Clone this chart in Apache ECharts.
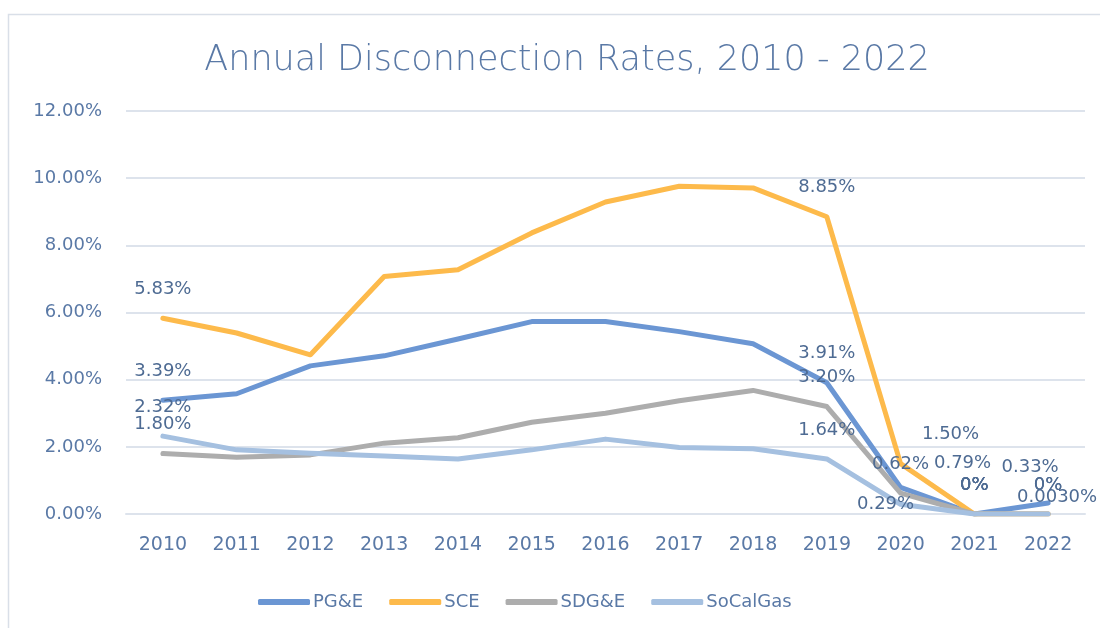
<!DOCTYPE html>
<html>
<head>
<meta charset="utf-8">
<title>Annual Disconnection Rates, 2010 - 2022</title>
<script src="https://cdn.jsdelivr.net/npm/echarts@6/dist/echarts.min.js"></script>
<style>
  html, body { margin: 0; padding: 0; background: #fff; }
  #chart { width: 1100px; height: 628px; }
</style>
</head>
<body>
<div id="chart"></div>
<script>
/* Tasas anuales de desconexión (en %) */
const YEARS = ["2010","2011","2012","2013","2014","2015","2016","2017","2018","2019","2020","2021","2022"];
const SERIES_NAMES = ["PG&E", "SCE", "SDG&E", "SoCalGas"];

const PGE      = [3.39, 3.58, 4.41, 4.71, 5.21, 5.73, 5.73, 5.43, 5.07, 3.91, 0.79, 0, 0.33];
const SCE      = [5.83, 5.39, 4.74, 7.07, 7.27, 8.37, 9.29, 9.76, 9.71, 8.85, 1.50, 0, 0];
const SDGE     = [1.80, 1.69, 1.76, 2.11, 2.27, 2.73, 3.00, 3.37, 3.68, 3.20, 0.62, 0, 0];
const SOCALGAS = [2.32, 1.91, 1.81, 1.73, 1.64, 1.91, 2.23, 1.98, 1.94, 1.64, 0.29, 0, 0.003];

// etiquetas de datos tal como aparecen (null = sin etiqueta)
const PGE_LABELS      = ["3.39%", null, null, null, null, null, null, null, null, "3.91%", "0.79%", "0%", "0.33%"];
const SCE_LABELS      = ["5.83%", null, null, null, null, null, null, null, null, "8.85%", "1.50%", "0%", "0%"];
const SDGE_LABELS     = ["1.80%", null, null, null, null, null, null, null, null, "3.20%", "0.62%", "0%", "0%"];
const SOCALGAS_LABELS = ["2.32%", null, null, null, null, null, null, null, null, "1.64%", "0.29%", "0%", "0.0030%"];

const Y_TICKS = [0, 2, 4, 6, 8, 10, 12];

const PALETTE = {
  pge: "#6b96d3",
  sce: "#fdba4b",
  sdge: "#adadad",
  socal: "#a5c0e0",
  text: "#5a79a6",
  label: "#4e6b93",
  grid: "#dde3ec",
};

// desplazamientos manuales de etiquetas (como en el original)
const LABEL_OFFSETS = {
  "PG&E":     { 10: [62, 5], 12: [-18, -7] },
  "SCE":      { 10: [50, 0] },
  "SDG&E":    {},
  "SoCalGas": { 10: [-15, 29], 12: [9, 12] },
};

const FONT = "'DejaVu Sans', sans-serif";

function buildSeries(name, values, labels, color) {
  const offs = LABEL_OFFSETS[name] || {};
  return {
    name,
    type: "line",
    symbol: "circle",
    symbolSize: 0,
    showSymbol: true,
    lineStyle: { width: 5, color, cap: "round", join: "round" },
    itemStyle: { color },
    emphasis: { disabled: true },
    data: values.map((v, i) => {
      const item = { value: v };
      if (labels[i] !== null) {
        item.label = {
          show: true,
          position: "top",
          distance: 20,
          offset: offs[i] || [0, 0],
          formatter: labels[i],
          color: PALETTE.label,
          fontSize: 18,
          fontFamily: FONT,
        };
      }
      return item;
    }),
    z: 2,
  };
}

const chart = echarts.init(document.getElementById("chart"), null, { renderer: "canvas" });

chart.setOption({
  animation: false,
  backgroundColor: "#fff",
  graphic: [{
    type: "rect",
    left: 6, top: 12,
    shape: { width: 1200, height: 700 },
    style: { fill: "none", stroke: "#d9dfe8", lineWidth: 1.5 },
    silent: true,
  }],
  title: {
    text: "Annual Disconnection Rates, 2010 - 2022",
    left: 562, top: 38, textAlign: "center",
    textStyle: { color: PALETTE.text, fontSize: 35, fontWeight: 200, fontFamily: FONT },
  },
  legend: {
    data: SERIES_NAMES.map(n => ({ name: n, icon: "roundRect" })),
    left: 253, top: 588,
    itemWidth: 52, itemHeight: 6, itemGap: 26,
    textStyle: { color: PALETTE.text, fontSize: 18, fontFamily: FONT, padding: [0, 0, 0, -2] },
    selectedMode: false,
  },
  grid: { left: 126, right: 15, top: 111, bottom: 114, containLabel: false },
  xAxis: {
    type: "category",
    data: YEARS,
    boundaryGap: true,
    axisLine: { lineStyle: { color: PALETTE.grid, width: 2 } },
    axisTick: { show: false },
    axisLabel: { color: PALETTE.text, fontSize: 19, fontFamily: FONT, margin: 22 },
  },
  yAxis: {
    type: "value",
    min: Y_TICKS[0], max: Y_TICKS[Y_TICKS.length - 1], interval: 2,
    axisLine: { show: false },
    axisTick: { show: false },
    splitLine: { lineStyle: { color: PALETTE.grid, width: 2 } },
    axisLabel: {
      color: PALETTE.text, fontSize: 18, fontFamily: FONT, margin: 24,
      formatter: v => v.toFixed(2) + "%",
    },
  },
  series: [
    buildSeries("PG&E", PGE, PGE_LABELS, PALETTE.pge),
    buildSeries("SCE", SCE, SCE_LABELS, PALETTE.sce),
    buildSeries("SDG&E", SDGE, SDGE_LABELS, PALETTE.sdge),
    buildSeries("SoCalGas", SOCALGAS, SOCALGAS_LABELS, PALETTE.socal),
  ],
});
</script>
</body>
</html>
